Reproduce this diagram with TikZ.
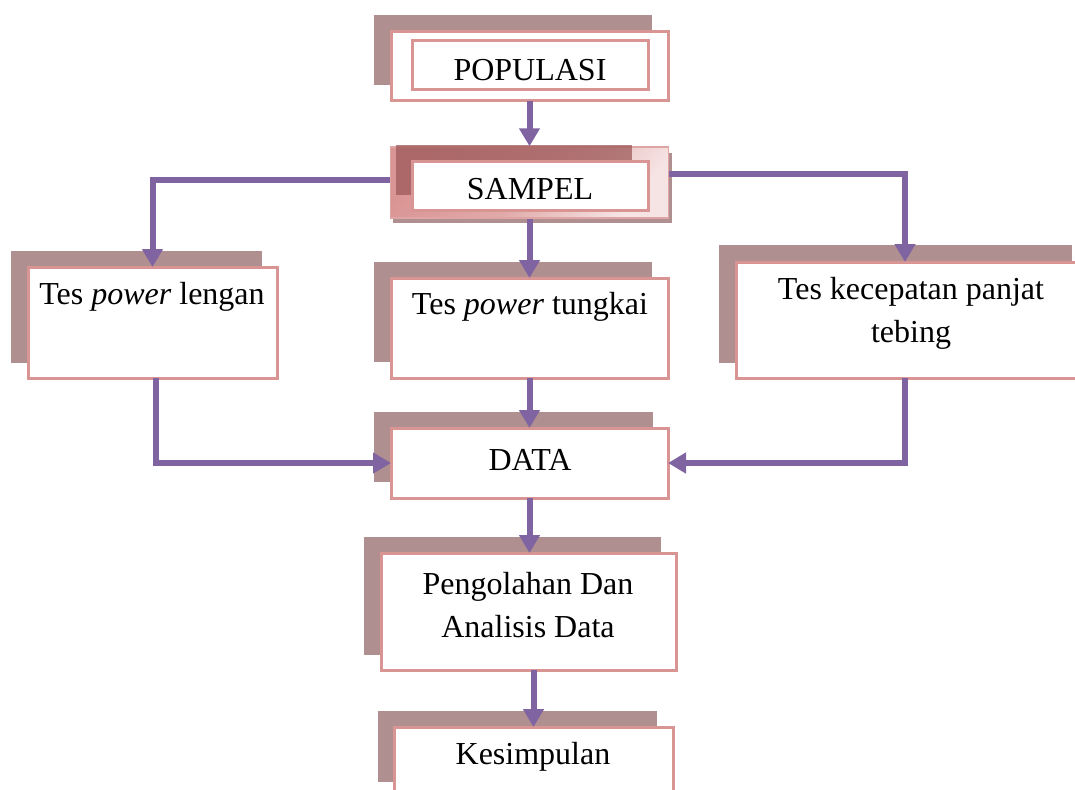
\documentclass[tikz,border=0pt]{standalone}
\usepackage{fontspec}
\setmainfont{Liberation Serif}
\usetikzlibrary{arrows.meta}
\definecolor{pinkb}{HTML}{D99594}
\definecolor{shad}{HTML}{AF8F8F}
\definecolor{purp}{HTML}{8064A2}
\definecolor{darkbar}{HTML}{9E5A5B}
\definecolor{lightpink}{HTML}{F6E4E4}
\tikzset{
  front/.style={draw=pinkb, line width=3pt, fill=white, inner sep=0pt, outer sep=0pt},
  lbl/.style={inner sep=0pt, font=\fontsize{32}{43}\selectfont, align=center, text=black},
  conn/.style={draw=purp, line width=6pt, -{Triangle[width=20pt,length=18pt]}},
}
\begin{document}
\begin{tikzpicture}[x=1pt,y=-1pt]
\useasboundingbox (0,0) rectangle (1075,789);
% POPULASI
\fill[shad] (374,15) rectangle (652,85);
\node[front, minimum width=277pt, minimum height=69pt] (pop) at (529.5,66.5) {};
\node[draw=pinkb, line width=3pt, inner sep=0pt, minimum width=236pt, minimum height=49pt] (popin) at (530,65.5) {};
\node[lbl] (popT) at (530,70) {POPULASI};
% SAMPEL
\fill[shad] (393,153) rectangle (672,223);
\shade[left color=pinkb, right color=lightpink, middle color=pinkb!80!white, shading angle=50] (390,147) rectangle (668,218);
\node[draw=pinkb!85!white, line width=1.5pt, inner sep=0pt, minimum width=278pt, minimum height=71pt] (sampel) at (529.5,182.5) {};
\fill[darkbar, opacity=0.75] (396,145) rectangle (632,195);
\node[draw=pinkb, line width=3pt, fill=white, inner sep=0pt, minimum width=236pt, minimum height=49pt] (sampin) at (530,185.5) {};
\node[lbl] (sampT) at (530,189) {SAMPEL};
% Tes power lengan
\fill[shad] (11,251) rectangle (262,363);
\node[front, minimum width=249pt, minimum height=111pt] (lengan) at (152.5,322.5) {};
\node[lbl] (lenganT) at (152,297) {Tes \textit{power} lengan};
% Tes power tungkai
\fill[shad] (374,262) rectangle (652,362);
\node[front, minimum width=277pt, minimum height=100pt] (tungkai) at (529.5,328) {};
\node[lbl] (tungkaiT) at (530,307) {Tes \textit{power} tungkai};
% Tes kecepatan
\fill[shad] (719,245) rectangle (1072,363);
\node[front, minimum width=342pt, minimum height=116pt] (kec) at (907,320) {};
\node[lbl] (kecT) at (911,313) {Tes kecepatan panjat\\tebing};
% DATA
\fill[shad] (374,412) rectangle (653,482);
\node[front, minimum width=277pt, minimum height=70pt] (data) at (529.5,463) {};
\node[lbl] (dataT) at (530,460) {DATA};
% Pengolahan
\fill[shad] (364,537) rectangle (661,655);
\node[front, minimum width=295pt, minimum height=117pt] (olah) at (528.5,611.5) {};
\node[lbl] (olahT) at (528,605) {Pengolahan Dan\\Analisis Data};
% Kesimpulan
\fill[shad] (378,711) rectangle (657,782);
\node[front, minimum width=279pt, minimum height=66pt] (kes) at (533.5,760) {};
\node[lbl] (kesT) at (533,757) {Kesimpulan};
% connectors
\draw[conn] (pop.south) -- (sampel.north);
\draw[conn] ([yshift=3pt]sampel.west) -| (lengan.north);
\draw[conn] ([yshift=9pt]sampel.east) -| ([xshift=-2pt]kec.north);
\draw[conn] (sampel.south) -- (tungkai.north);
\draw[conn] ([xshift=3pt]lengan.south) |- (data.west);
\draw[conn] (tungkai.south) -- (data.north);
\draw[conn] ([xshift=-2pt]kec.south) |- (data.east);
\draw[conn] (data.south) -- (data.south |- olah.north);
\draw[conn] (olah.south -| kes.north) -- (kes.north);
\end{tikzpicture}
\end{document}
